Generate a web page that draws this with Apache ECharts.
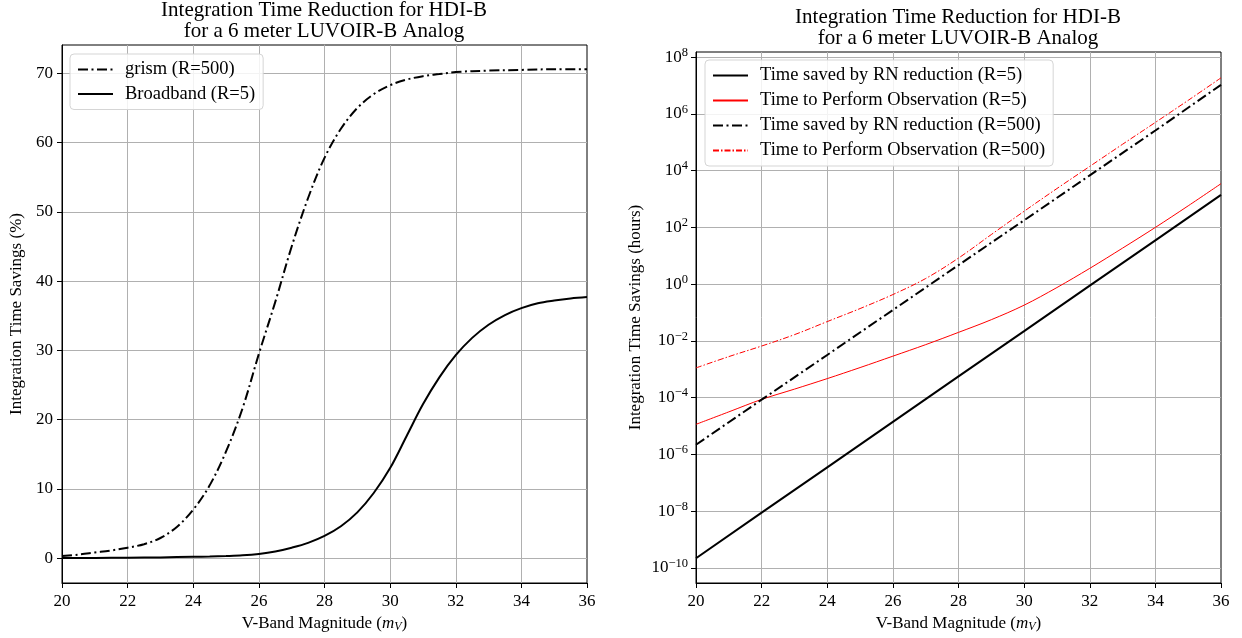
<!DOCTYPE html>
<html><head><meta charset="utf-8">
<script src="https://cdn.jsdelivr.net/npm/echarts@6/dist/echarts.min.js"></script>
<style>html,body{margin:0;padding:0;background:#fff}#c{width:1242px;height:638px}</style>
</head><body><div id="c"></div>
<script>
// ---------- Data (left panel: % savings) ----------
const grismMag = [20,20.5,21,21.5,22,22.5,23,23.5,24,24.5,25,25.5,26,26.5,27,27.5,28,28.5,29,29.5,30,30.5,31,31.5,32,33,34,35,36];
const grismSavingsPct = [0.3,0.5,0.8,1.1,1.5,2.0,2.9,4.5,7.0,10.5,15.4,21.6,29.5,37.0,45.0,52.0,57.8,62.0,65.0,67.0,68.3,69.1,69.6,69.9,70.2,70.4,70.5,70.6,70.6];
const broadMag = [20,21,22,23,24,24.5,25,25.5,26,26.5,27,27.5,28,28.5,29,29.5,30,30.5,31,31.5,32,32.5,33,33.5,34,34.5,35,35.5,36];
const broadSavingsPct = [0.0,0.02,0.05,0.1,0.18,0.23,0.3,0.4,0.6,0.95,1.5,2.2,3.2,4.6,6.6,9.4,13.0,17.6,22.2,26.1,29.3,31.8,33.7,35.1,36.1,36.8,37.2,37.5,37.7];

// ---------- Data (right panel: hours, log scale) ----------
const magEvery2 = [20,22,24,26,28,30,32,34,36];
const savedR5Hours = [2.2e-10,8.9e-9,3.5e-7,1.4e-5,5.6e-4,2.2e-2,0.89,35,1400];
const savedR500Hours = [2.2e-6,8.5e-5,3.2e-3,0.123,4.7,178,6800,2.6e5,1.05e7];
const magEvery1 = [20,21,22,23,24,25,26,27,28,29,30,31,32,33,34,35,36];
const obsR5Hours = [1.15e-5,3.16e-5,8.7e-5,2.0e-4,4.7e-4,1.15e-3,2.9e-3,7.4e-3,2.0e-2,5.6e-2,0.182,0.76,3.6,18.6,100,575,3470];
const obsR500Hours = [1.12e-3,2.8e-3,6.6e-3,1.66e-2,4.8e-2,0.138,0.43,1.58,8.3,56,370,2340,1.41e4,8.5e4,5.0e5,3.0e6,1.86e7];

// ---------- Tick labels ----------
const xTicks = [20,22,24,26,28,30,32,34,36];
const leftYTicks = [0,10,20,30,40,50,60,70];
const rightYExponents = [-10,-8,-6,-4,-2,0,2,4,6,8];

const titleText = 'Integration Time Reduction for HDI-B\nfor a 6 meter LUVOIR-B Analog';
const FONT = 'Liberation Serif';
const pairs = (xs, ys) => xs.map((x, i) => [x, ys[i]]);
const logPairs = (xs, ys) => xs.map((x, i) => [x, Math.log10(ys[i])]);

const DASHDOT_THICK = [10, 3.5, 2, 3.5];
const DASHDOT_THIN = [6, 2, 1.5, 2];

function xAxisCfg(gi) {
  return {
    gridIndex: gi, type: 'value', min: 20, max: 36, interval: 2,
    axisLine: { show: true, onZero: false, lineStyle: { color: '#000', width: 1 } },
    axisTick: { show: true, inside: false, length: 5, customValues: xTicks, lineStyle: { color: '#000' } },
    axisLabel: { customValues: xTicks, color: '#000', fontFamily: FONT, fontSize: 17, margin: 10 },
    splitLine: { show: true, showMinLine: false, showMaxLine: false, lineStyle: { color: '#b0b0b0', width: 1 } },
    name: 'V-Band Magnitude ({it|m}{sub|V})',
    nameLocation: 'middle', nameGap: 31,
    nameTextStyle: {
      color: '#000', fontFamily: FONT, fontSize: 17,
      rich: {
        it: { fontFamily: FONT, fontStyle: 'italic', fontSize: 17, color: '#000' },
        sub: { fontFamily: FONT, fontStyle: 'italic', fontSize: 12, color: '#000', padding: [6, 0, 0, 0] }
      }
    }
  };
}

function legendCfg(names, left, top, gap) {
  return {
    data: names, left: left, top: top, orient: 'vertical',
    itemWidth: 35, itemHeight: 12, itemGap: gap,
    itemStyle: { opacity: 0 },
    padding: [6, 8, 6, 7], backgroundColor: 'rgba(255,255,255,0.85)',
    borderColor: '#d5d5d5', borderWidth: 1, borderRadius: 4,
    textStyle: { fontFamily: FONT, fontSize: 18.5, color: '#000', padding: [0, 0, 0, 7] }
  };
}

const option = {
  animation: false,
  backgroundColor: '#fff',
  title: [
    { text: titleText, left: 324, top: 0, textAlign: 'center', padding: 0,
      textStyle: { fontFamily: FONT, fontSize: 21, fontWeight: 'normal', color: '#000', lineHeight: 21 } },
    { text: titleText, left: 958, top: 7, textAlign: 'center', padding: 0,
      textStyle: { fontFamily: FONT, fontSize: 21, fontWeight: 'normal', color: '#000', lineHeight: 21 } }
  ],
  grid: [
    { left: 62, top: 45, width: 525, height: 538, show: true, borderColor: '#000', borderWidth: 1, backgroundColor: 'transparent' },
    { left: 696, top: 52, width: 525, height: 531, show: true, borderColor: '#000', borderWidth: 1, backgroundColor: 'transparent' }
  ],
  legend: [
    legendCfg(['grism (R=500)', 'Broadband (R=5)'], 70, 54, 5.5),
    legendCfg(['Time saved by RN reduction (R=5)', 'Time to Perform Observation (R=5)', 'Time saved by RN reduction (R=500)', 'Time to Perform Observation (R=500)'], 705, 60, 6)
  ],
  xAxis: [xAxisCfg(0), xAxisCfg(1)],
  yAxis: [
    {
      gridIndex: 0, type: 'value', min: -3.6, max: 74.1,
      axisLine: { show: true, onZero: false, lineStyle: { color: '#000', width: 1 } },
      axisTick: { show: true, inside: false, length: 5, customValues: leftYTicks, lineStyle: { color: '#000' } },
      axisLabel: { customValues: leftYTicks, color: '#000', fontFamily: FONT, fontSize: 17, margin: 9 },
      splitLine: { show: true, lineStyle: { color: '#b0b0b0', width: 1 } },
      name: 'Integration Time Savings (%)', nameLocation: 'middle', nameGap: 37,
      nameTextStyle: { color: '#000', fontFamily: FONT, fontSize: 17 }
    },
    {
      gridIndex: 1, type: 'value', min: -10.53, max: 8.18,
      axisLine: { show: true, onZero: false, lineStyle: { color: '#000', width: 1 } },
      axisTick: { show: true, inside: false, length: 5, customValues: rightYExponents, lineStyle: { color: '#000' } },
      axisLabel: {
        customValues: rightYExponents, color: '#000', fontFamily: FONT, fontSize: 17, margin: 8,
        formatter: v => '{b|10}{s|' + (v < 0 ? '\u2212' : '') + Math.abs(Math.round(v)) + '}',
        rich: {
          b: { fontFamily: FONT, fontSize: 17, color: '#000' },
          s: { fontFamily: FONT, fontSize: 12.5, color: '#000', padding: [0, 0, 9, 0] }
        }
      },
      splitLine: { show: true, lineStyle: { color: '#b0b0b0', width: 1 } },
      name: 'Integration Time Savings (hours)', nameLocation: 'middle', nameGap: 52,
      nameTextStyle: { color: '#000', fontFamily: FONT, fontSize: 17 }
    }
  ],
  series: [
    { name: 'grism (R=500)', type: 'line', xAxisIndex: 0, yAxisIndex: 0, data: pairs(grismMag, grismSavingsPct),
      symbol: 'none', showSymbol: false, smooth: 0.35,
      lineStyle: { color: '#000', width: 2, type: DASHDOT_THICK }, itemStyle: { color: '#000' } },
    { name: 'Broadband (R=5)', type: 'line', xAxisIndex: 0, yAxisIndex: 0, data: pairs(broadMag, broadSavingsPct),
      symbol: 'none', showSymbol: false, smooth: 0.35,
      lineStyle: { color: '#000', width: 2, type: 'solid' }, itemStyle: { color: '#000' } },
    { name: 'Time saved by RN reduction (R=5)', type: 'line', xAxisIndex: 1, yAxisIndex: 1, data: logPairs(magEvery2, savedR5Hours),
      symbol: 'none', showSymbol: false,
      lineStyle: { color: '#000', width: 2, type: 'solid' }, itemStyle: { color: '#000' } },
    { name: 'Time to Perform Observation (R=5)', type: 'line', xAxisIndex: 1, yAxisIndex: 1, data: logPairs(magEvery1, obsR5Hours),
      symbol: 'none', showSymbol: false, smooth: 0.35,
      lineStyle: { color: '#ff0000', width: 1, type: 'solid' }, itemStyle: { color: '#ff0000' } },
    { name: 'Time saved by RN reduction (R=500)', type: 'line', xAxisIndex: 1, yAxisIndex: 1, data: logPairs(magEvery2, savedR500Hours),
      symbol: 'none', showSymbol: false,
      lineStyle: { color: '#000', width: 2, type: DASHDOT_THICK }, itemStyle: { color: '#000' } },
    { name: 'Time to Perform Observation (R=500)', type: 'line', xAxisIndex: 1, yAxisIndex: 1, data: logPairs(magEvery1, obsR500Hours),
      symbol: 'none', showSymbol: false, smooth: 0.35,
      lineStyle: { color: '#ff0000', width: 1, type: DASHDOT_THIN }, itemStyle: { color: '#ff0000' } }
  ]
};
const chart = echarts.init(document.getElementById('c'), null, { renderer: 'canvas' });
chart.setOption(option);
</script>
</body></html>
